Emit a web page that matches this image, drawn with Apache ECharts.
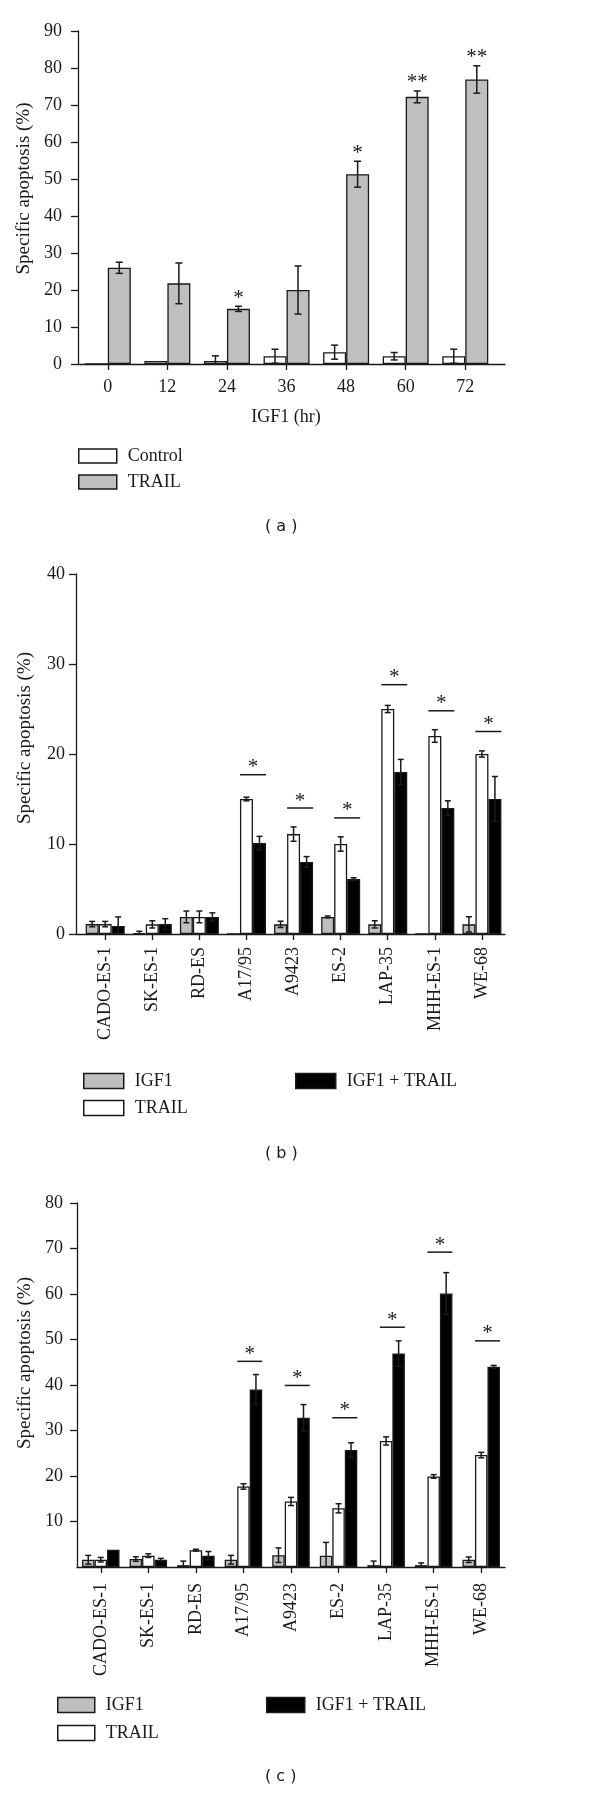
<!DOCTYPE html>
<html>
<head>
<meta charset="utf-8">
<script src="https://cdn.jsdelivr.net/npm/echarts@6/dist/echarts.min.js"></script>
<style>html,body{margin:0;padding:0;background:#fff}#c{width:600px;height:1793px}</style>
</head>
<body>
<div id="c"></div>
<script>
// ---------- Panel (a) data ----------
const hours = [0, 12, 24, 36, 48, 60, 72];
const controlA = [0, 0.8, 0.8, 2.1, 3.2, 2.1, 2.1];
const controlAErr = [0, 0, 1.4, 1.9, 1.9, 1.0, 1.9];
const trailA = [26.0, 21.8, 14.9, 20.0, 51.3, 72.2, 76.9];
const trailAErr = [1.5, 5.5, 0.7, 6.5, 3.5, 1.6, 3.7];
const starsA = ['', '', '*', '', '*', '**', '**'];
const yTicksA = [0, 90, 10];

// ---------- Panels (b) and (c) categories ----------
const cells = ['CADO-ES-1', 'SK-ES-1', 'RD-ES', 'A17/95', 'A9423', 'ES-2', 'LAP-35', 'MHH-ES-1', 'WE-68'];
const cellIdx = [0, 1, 2, 3, 4, 5, 6, 7, 8];

// ---------- Panel (b) data ----------
const igf1B = [1.1, 0.1, 1.9, 0, 1.07, 1.9, 1.07, 0, 1.07];
const igf1BErr = [0.3, 0.2, 0.65, 0, 0.35, 0.1, 0.4, 0, 0.85];
const trailB = [1.1, 1.07, 1.9, 15.0, 11.1, 10.0, 25.0, 22.0, 20.0];
const trailBErr = [0.3, 0.4, 0.65, 0.2, 0.8, 0.8, 0.4, 0.7, 0.35];
const comboB = [0.9, 1.1, 1.9, 10.1, 8.0, 6.1, 18.0, 14.0, 15.0];
const comboBErr = [1.0, 0.6, 0.45, 0.75, 0.6, 0.15, 1.4, 0.8, 2.5];
const sigB = [null, null, null, 17.7, 14.0, 12.9, 27.7, 24.8, 22.5];
const yTicksB = [0, 40, 10];

// ---------- Panel (c) data ----------
const igf1C = [1.6, 1.75, 0.4, 1.6, 2.6, 2.5, 0.4, 0.4, 1.6];
const igf1CErr = [0.95, 0.5, 0.9, 0.95, 1.6, 2.9, 0.9, 0.5, 0.6];
const trailC = [1.6, 2.5, 3.7, 17.7, 14.4, 12.9, 27.7, 19.9, 24.6];
const trailCErr = [0.5, 0.4, 0.2, 0.6, 0.9, 1.0, 0.9, 0.4, 0.6];
const comboC = [3.8, 1.6, 2.5, 39.0, 32.8, 25.7, 46.9, 60.1, 44.0];
const comboCErr = [0, 0.3, 0.9, 3.3, 2.9, 1.6, 2.8, 4.6, 0.3];
const sigC = [null, null, null, 45.2, 39.9, 32.8, 52.7, 69.2, 49.7];
const yTicksC = [0, 80, 10];

// ---------- styles ----------
const SERIF = '"Liberation Serif", "Times New Roman", serif';
const INK = '#1a1a1a';
const GRAY = '#bfbfbf';
const WA = 23, WB = 13, WC = 12.5;

function barSeries(name, xi, xs, vals, color, w) {
  return {
    type: 'bar', name, xAxisIndex: xi, yAxisIndex: xi,
    barWidth: w, barGap: '0%',
    data: xs.map((x, i) => [x, vals[i]]),
    itemStyle: { color, borderColor: INK, borderWidth: 1.3 },
    silent: true, animation: false
  };
}

function errSeries(xi, xs, vals, errs, offsetPx, cap) {
  return {
    type: 'custom', xAxisIndex: xi, yAxisIndex: xi, clip: true, silent: true, z: 5, animation: false,
    data: xs.map((x, i) => [x, vals[i], errs[i]]),
    renderItem(params, api) {
      const x = api.value(0), v = api.value(1), e = api.value(2);
      if (!e) return null;
      const top = api.coord([x, v + e]);
      const bot = api.coord([x, v - e]);
      const cx = top[0] + offsetPx;
      const st = { stroke: INK, lineWidth: 1.5 };
      return {
        type: 'group', children: [
          { type: 'line', shape: { x1: cx, y1: top[1], x2: cx, y2: bot[1] }, style: st },
          { type: 'line', shape: { x1: cx - cap, y1: top[1], x2: cx + cap, y2: top[1] }, style: st },
          { type: 'line', shape: { x1: cx - cap, y1: bot[1], x2: cx + cap, y2: bot[1] }, style: st }
        ]
      };
    }
  };
}

function starSeriesA() {
  return {
    type: 'custom', xAxisIndex: 0, yAxisIndex: 0, silent: true, z: 6, animation: false,
    data: hours.map((h, i) => [h, trailA[i] + trailAErr[i], i]),
    renderItem(params, api) {
      const i = api.value(2);
      const s = starsA[i];
      if (!s) return null;
      const p = api.coord([api.value(0), api.value(1)]);
      return {
        type: 'text',
        style: { text: s, x: p[0] + WA / 2, y: p[1] - 8, align: 'center', verticalAlign: 'middle',
                 font: '21px ' + SERIF, fill: INK }
      };
    }
  };
}

function sigSeries(xi, sig, w) {
  return {
    type: 'custom', xAxisIndex: xi, yAxisIndex: xi, silent: true, z: 6, animation: false,
    data: cellIdx.map((c, i) => [c, sig[i] == null ? NaN : sig[i]]),
    renderItem(params, api) {
      const v = api.value(1);
      if (isNaN(v)) return null;
      const p = api.coord([api.value(0), v]);
      const x1 = p[0] - w / 2, x2 = p[0] + 1.5 * w;
      return {
        type: 'group', children: [
          { type: 'line', shape: { x1, y1: p[1], x2, y2: p[1] }, style: { stroke: INK, lineWidth: 1.5 } },
          { type: 'text', style: { text: '*', x: (x1 + x2) / 2, y: p[1] - 7, align: 'center', verticalAlign: 'middle',
                                   font: '21px ' + SERIF, fill: INK } }
        ]
      };
    }
  };
}

function yAxisCfg(gi, ticks, labelMargin, namePad, showMin) {
  return {
    type: 'value', gridIndex: gi, min: ticks[0], max: ticks[1], interval: ticks[2],
    name: 'Specific apoptosis (%)', nameLocation: 'middle', nameGap: 41,
    nameTextStyle: { fontFamily: SERIF, fontSize: 19, color: INK, padding: [0, 0, 0, namePad] },
    axisLine: { show: true, onZero: false, lineStyle: { color: INK, width: 1.3 } },
    axisTick: { show: true, length: 7, lineStyle: { color: INK, width: 1.3 } },
    axisLabel: { fontFamily: SERIF, fontSize: 18, color: INK, margin: labelMargin, showMinLabel: showMin },
    splitLine: { show: false }
  };
}

function catXAxis(gi, min, max, margin) {
  return {
    type: 'value', gridIndex: gi, min, max,
    axisLine: { show: true, lineStyle: { color: INK, width: 1.3 } },
    axisTick: { show: true, length: 6, customValues: cellIdx, lineStyle: { color: INK, width: 1.3 } },
    axisLabel: { customValues: cellIdx, rotate: 90, margin, fontFamily: SERIF, fontSize: 18, color: INK,
                 formatter: v => cells[Math.round(v)] },
    splitLine: { show: false }
  };
}

function legendCfg(items, left, top, w, h, gap) {
  return {
    data: items, orient: 'vertical', left, top, padding: 0,
    itemWidth: w, itemHeight: h, itemGap: gap, icon: 'rect', selectedMode: false,
    textStyle: { fontFamily: SERIF, fontSize: 18, color: INK, padding: [0, 0, 0, 6] }
  };
}
const legBorder = { borderColor: INK, borderWidth: 1.5 };

const option = {
  backgroundColor: '#fff',
  animation: false,
  title: [
    { text: '( a )', left: 265, top: 519, padding: 0, textStyle: { fontFamily: '"DejaVu Sans", sans-serif', fontSize: 16, fontWeight: 'normal', color: INK } },
    { text: '( b )', left: 265, top: 1146, padding: 0, textStyle: { fontFamily: '"DejaVu Sans", sans-serif', fontSize: 16, fontWeight: 'normal', color: INK } },
    { text: '( c )', left: 265, top: 1769, padding: 0, textStyle: { fontFamily: '"DejaVu Sans", sans-serif', fontSize: 16, fontWeight: 'normal', color: INK } }
  ],
  legend: [
    legendCfg([
      { name: 'Control', itemStyle: Object.assign({ color: '#fff' }, legBorder) },
      { name: 'TRAIL', itemStyle: Object.assign({ color: GRAY }, legBorder) }
    ], 78, 447, 38, 14, 8),
    legendCfg([
      { name: 'IGF1', itemStyle: Object.assign({ color: GRAY }, legBorder) },
      { name: 'TRAIL', itemStyle: Object.assign({ color: '#fff' }, legBorder) }
    ], 83, 1072, 40, 15, 9),
    legendCfg([
      { name: 'IGF1 + TRAIL', itemStyle: Object.assign({ color: '#000' }, legBorder) }
    ], 295, 1072, 40, 15, 9),
    legendCfg([
      { name: 'IGF1', itemStyle: Object.assign({ color: GRAY }, legBorder) },
      { name: 'TRAIL', itemStyle: Object.assign({ color: '#fff' }, legBorder) }
    ], 57, 1696, 37, 15, 10),
    legendCfg([
      { name: 'IGF1 + TRAIL', itemStyle: Object.assign({ color: '#000' }, legBorder) }
    ], 266, 1696, 38, 15, 10)
  ],
  grid: [
    { left: 78, top: 31, width: 427, height: 333 },
    { left: 76, top: 574, width: 429, height: 360 },
    { left: 77, top: 1203, width: 428, height: 364 }
  ],
  xAxis: [
    {
      type: 'value', gridIndex: 0, min: -6, max: 80,
      name: 'IGF1 (hr)', nameLocation: 'middle', nameGap: 44,
      nameTextStyle: { fontFamily: SERIF, fontSize: 18, color: INK, padding: [0, 11, 0, 0] },
      axisLine: { show: true, lineStyle: { color: INK, width: 1.3 } },
      axisTick: { show: true, length: 6, customValues: hours, lineStyle: { color: INK, width: 1.3 } },
      axisLabel: { customValues: hours, margin: 14, fontFamily: SERIF, fontSize: 18, color: INK },
      splitLine: { show: false }
    },
    catXAxis(1, -0.62, 8.49, 13),
    catXAxis(2, -0.5, 8.5, 16)
  ],
  yAxis: [
    yAxisCfg(0, yTicksA, 16, 18, true),
    yAxisCfg(1, yTicksB, 11, 32, true),
    yAxisCfg(2, yTicksC, 14, 44, false)
  ],
  series: [
    barSeries('Control', 0, hours, controlA, '#fff', WA),
    barSeries('TRAIL', 0, hours, trailA, GRAY, WA),
    errSeries(0, hours, controlA, controlAErr, -WA / 2, 3.5),
    errSeries(0, hours, trailA, trailAErr, WA / 2, 3.5),
    starSeriesA(),

    barSeries('IGF1', 1, cellIdx, igf1B, GRAY, WB),
    barSeries('TRAIL', 1, cellIdx, trailB, '#fff', WB),
    barSeries('IGF1 + TRAIL', 1, cellIdx, comboB, '#000', WB),
    errSeries(1, cellIdx, igf1B, igf1BErr, -WB, 3),
    errSeries(1, cellIdx, trailB, trailBErr, 0, 3),
    errSeries(1, cellIdx, comboB, comboBErr, WB, 3),
    sigSeries(1, sigB, WB),

    barSeries('IGF1', 2, cellIdx, igf1C, GRAY, WC),
    barSeries('TRAIL', 2, cellIdx, trailC, '#fff', WC),
    barSeries('IGF1 + TRAIL', 2, cellIdx, comboC, '#000', WC),
    errSeries(2, cellIdx, igf1C, igf1CErr, -WC, 3),
    errSeries(2, cellIdx, trailC, trailCErr, 0, 3),
    errSeries(2, cellIdx, comboC, comboCErr, WC, 3),
    sigSeries(2, sigC, WC)
  ]
};

const chart = echarts.init(document.getElementById('c'), null, { renderer: 'canvas' });
chart.setOption(option);
</script>
</body>
</html>
